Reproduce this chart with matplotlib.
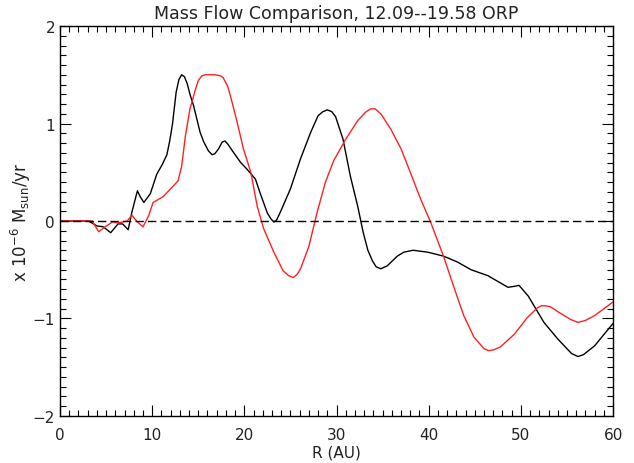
import matplotlib
matplotlib.use("Agg")
import matplotlib.pyplot as plt
from matplotlib.ticker import MultipleLocator

# mass flow profiles, radius in AU, flow in 1e-6 Msun/yr
r_black = [0.0, 1.0, 2.0, 3.1, 4.0, 4.7, 5.5, 6.3, 6.8, 7.4, 7.8, 8.4, 8.7, 9.1, 9.8,
           10.5, 11.1, 11.6, 11.9, 12.2, 12.6, 12.9, 13.2, 13.5, 13.8, 14.1, 14.5, 15.2,
           15.6, 16.1, 16.5, 16.8, 17.2, 17.6, 17.9, 18.2, 18.7, 19.6, 20.3, 21.2, 21.7,
           22.5, 22.9, 23.2, 23.5, 23.9, 25.0, 26.1, 27.2, 28.0, 28.5, 29.0, 29.5, 29.9,
           30.7, 31.5, 32.3, 32.9, 33.4, 33.9, 34.3, 34.8, 35.5, 36.6, 37.3, 38.3, 39.9,
           41.6, 43.1, 44.6, 46.4, 48.6, 49.3, 49.8, 50.8, 52.5, 54.0, 55.5, 56.2, 56.8,
           58.0, 60.0]
f_black = [0.0, 0.0, 0.0, 0.0, -0.05, -0.06, -0.12, -0.03, -0.03, -0.09, 0.09, 0.31, 0.25,
           0.19, 0.28, 0.48, 0.58, 0.68, 0.82, 0.99, 1.32, 1.45, 1.50, 1.48, 1.41, 1.30,
           1.18, 0.91, 0.81, 0.72, 0.68, 0.69, 0.74, 0.81, 0.82, 0.79, 0.72, 0.60, 0.53,
           0.43, 0.29, 0.08, 0.02, -0.01, 0.01, 0.09, 0.33, 0.64, 0.91, 1.08, 1.12, 1.14,
           1.12, 1.07, 0.84, 0.46, 0.15, -0.12, -0.30, -0.41, -0.47, -0.49, -0.46, -0.36,
           -0.32, -0.30, -0.32, -0.36, -0.42, -0.50, -0.56, -0.68, -0.67, -0.66, -0.77,
           -1.04, -1.21, -1.36, -1.39, -1.37, -1.28, -1.05]

r_red = [0.0, 1.0, 2.0, 3.5, 4.2, 4.9, 5.7, 6.3, 7.3, 7.8, 8.4, 9.0, 9.6, 10.1, 11.2,
         12.2, 12.8, 13.2, 13.6, 14.1, 14.7, 15.0, 15.4, 15.8, 16.3, 16.8, 17.4, 17.7,
         18.2, 18.5, 19.2, 19.9, 20.7, 21.4, 22.1, 23.2, 24.2, 24.8, 25.3, 25.7, 26.1,
         27.0, 27.9, 28.8, 29.7, 31.0, 32.3, 33.2, 33.7, 34.2, 34.8, 35.9, 37.0, 38.0,
         39.1, 40.2, 41.6, 42.7, 43.8, 44.9, 46.0, 46.5, 47.1, 47.8, 49.3, 50.7, 51.8,
         52.2, 52.7, 53.2, 54.0, 55.4, 56.2, 57.0, 58.0, 60.0]
f_red = [0.0, 0.0, 0.0, 0.0, -0.11, -0.06, -0.01, -0.02, 0.0, 0.06, -0.01, -0.06, 0.05,
         0.19, 0.25, 0.35, 0.41, 0.56, 0.87, 1.15, 1.35, 1.44, 1.49, 1.50, 1.50, 1.50,
         1.49, 1.47, 1.38, 1.28, 1.02, 0.74, 0.50, 0.15, -0.08, -0.32, -0.51, -0.56,
         -0.58, -0.55, -0.49, -0.26, 0.09, 0.40, 0.62, 0.84, 1.03, 1.12, 1.15, 1.15,
         1.10, 0.94, 0.74, 0.50, 0.23, -0.01, -0.36, -0.67, -0.97, -1.19, -1.31, -1.33,
         -1.32, -1.29, -1.16, -0.99, -0.89, -0.87, -0.87, -0.88, -0.93, -1.01, -1.04,
         -1.02, -0.97, -0.83]

plt.rcParams["font.family"] = "DejaVu Sans"
fig = plt.figure(figsize=(6.34, 4.64), dpi=100)
ax = fig.add_axes([0.0946, 0.1013, 0.8724, 0.8405])

ax.plot(r_black, f_black, color="black", lw=1.0, solid_joinstyle="round")
ax.plot(r_red, f_red, color="#ff2020", lw=1.0, solid_joinstyle="round")
ax.plot([0, 60], [0, 0], color="black", lw=1.0, dashes=(6, 3))

ax.set_xlim(0, 60)
ax.set_ylim(-2, 2)
ax.xaxis.set_major_locator(MultipleLocator(10))
ax.xaxis.set_minor_locator(MultipleLocator(1))
ax.yaxis.set_major_locator(MultipleLocator(1))
ax.yaxis.set_minor_locator(MultipleLocator(0.1))
ax.tick_params(which="both", direction="in", top=True, right=True, labelsize=11,
               labelcolor="#222222")
ax.tick_params(which="major", length=8, width=0.8)
ax.tick_params(which="minor", length=4, width=0.8)
ax.tick_params(axis="x", pad=8)
for s in ax.spines.values():
    s.set_linewidth(1.0)

ax.set_title("Mass Flow Comparison, 12.09--19.58 ORP", fontsize=12.5, pad=6,
             color="#222222")
ax.set_xlabel("R (AU)", fontsize=11, labelpad=2, color="#222222")
ax.set_ylabel(r"x 10$^{-6}$ M$_{\rm sun}$/yr", fontsize=12, labelpad=0,
              color="#222222")

fig.savefig("out.png", dpi=100)
